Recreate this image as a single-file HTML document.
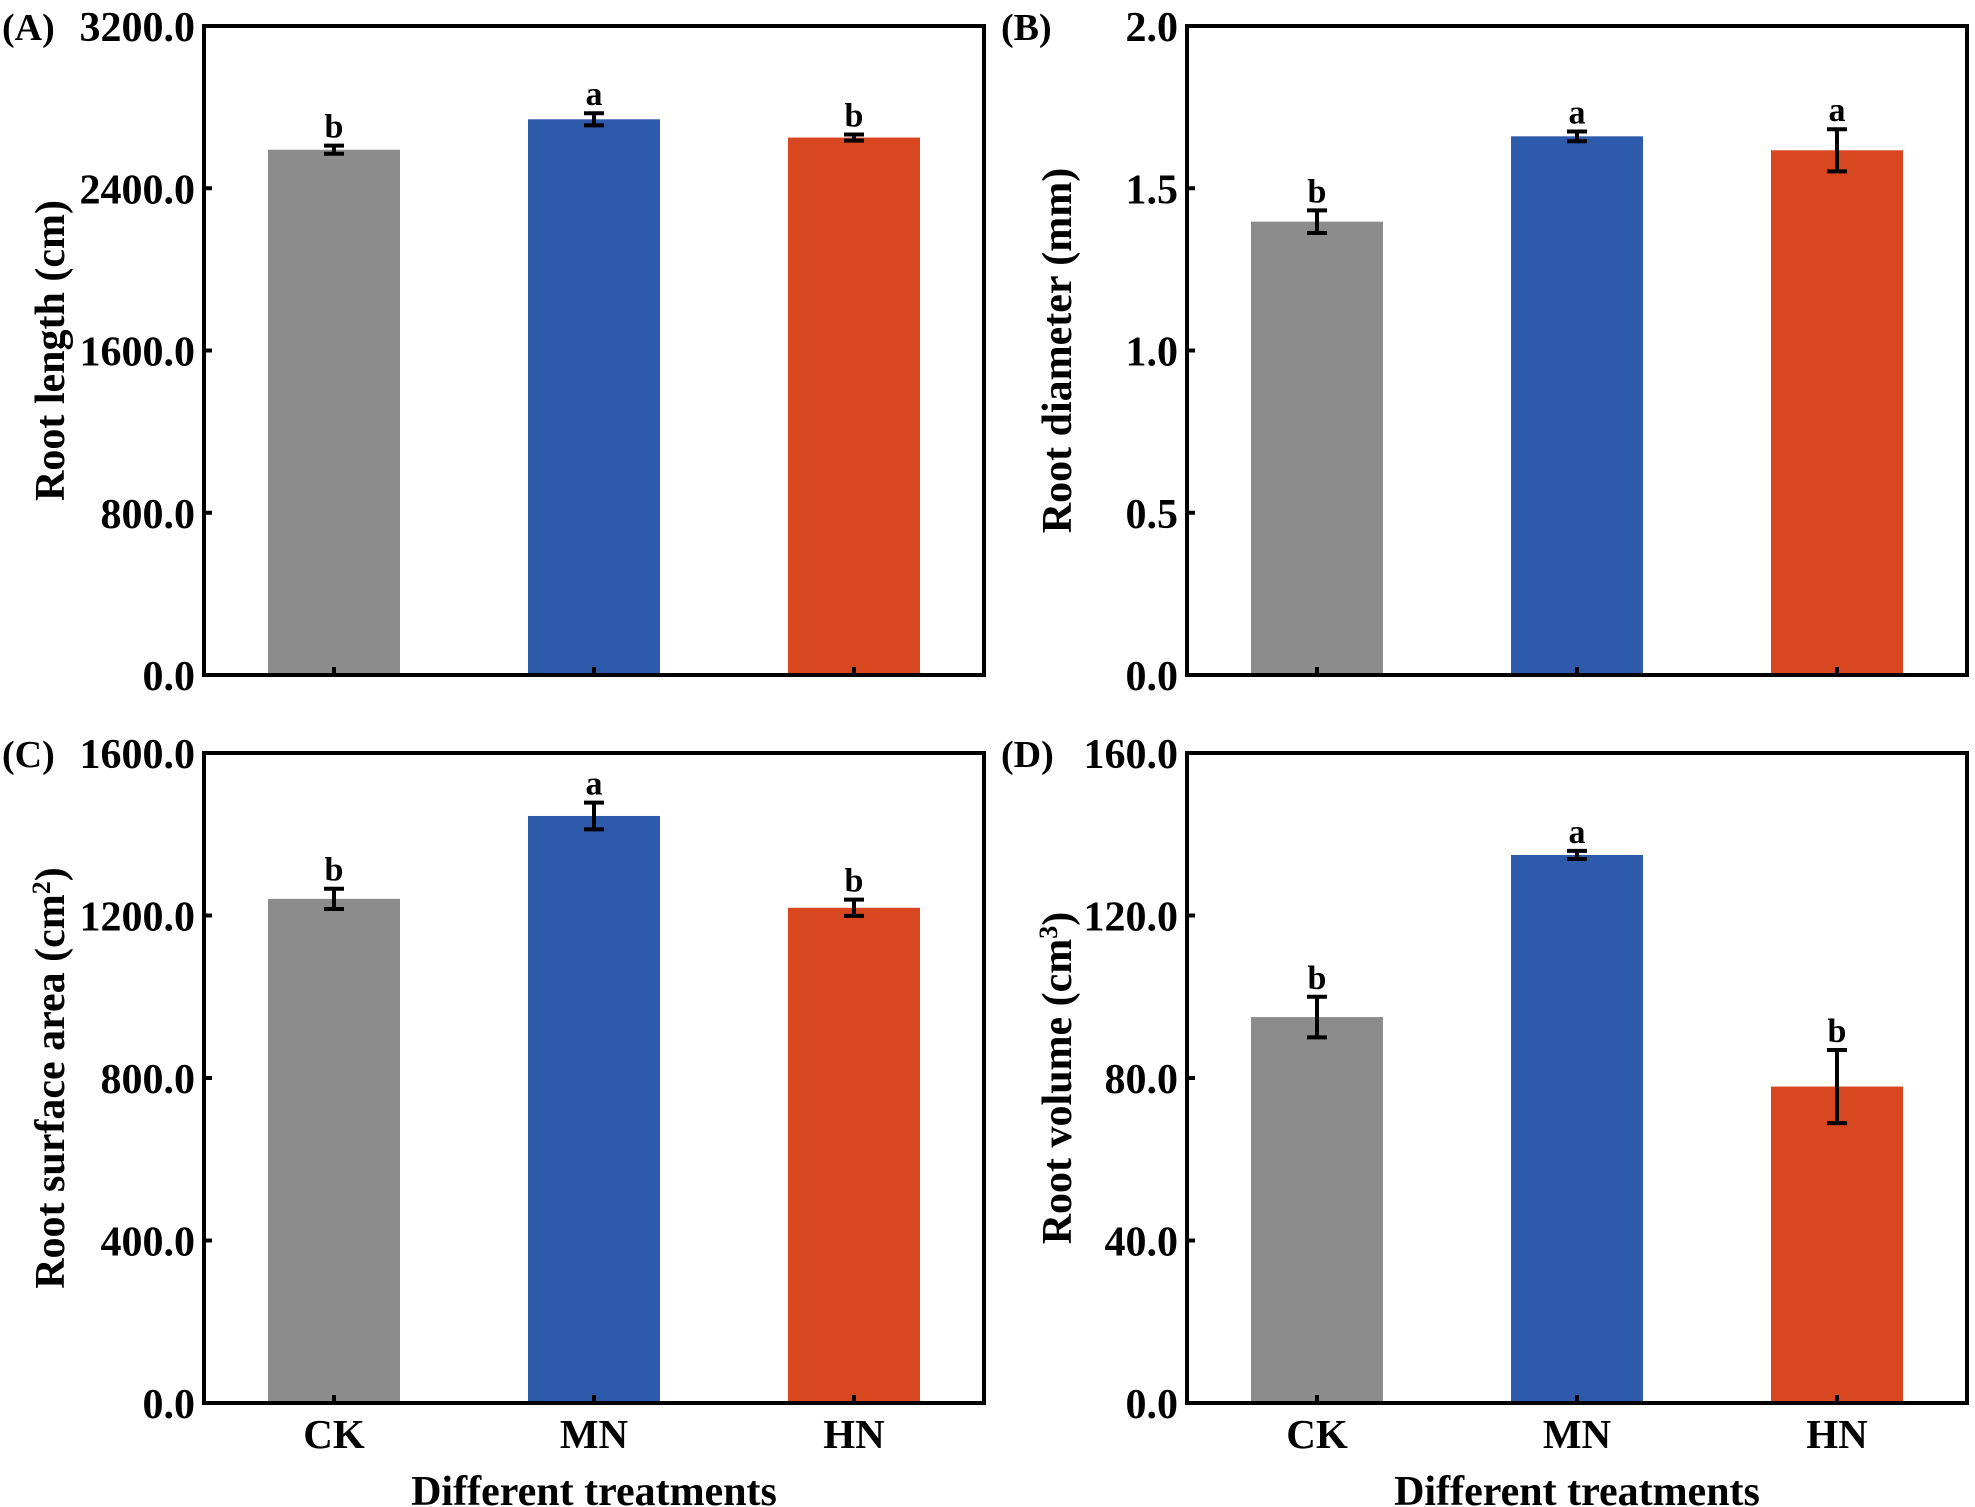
<!DOCTYPE html>
<html><head><meta charset="utf-8"><style>
html,body{margin:0;padding:0;background:#fff;}
svg{display:block;font-family:"Liberation Serif",serif;font-weight:bold;}
</style></head><body>
<svg id="fig" width="1975" height="1507" viewBox="0 0 1975 1507" xmlns="http://www.w3.org/2000/svg"></svg>
<script>
const categories = ["CK","MN","HN"];
const lengthValues = [2590, 2740, 2650];
const lengthErrors = [20, 30, 15];
const lengthLetters = ["b","a","b"];
const lengthTicks = ["0.0","800.0","1600.0","2400.0","3200.0"];
const diameterValues = [1.397, 1.66, 1.617];
const diameterErrors = [0.035, 0.015, 0.065];
const diameterLetters = ["b","a","a"];
const diameterTicks = ["0.0","0.5","1.0","1.5","2.0"];
const areaValues = [1241, 1445, 1219];
const areaErrors = [25, 33, 20];
const areaLetters = ["b","a","b"];
const areaTicks = ["0.0","400.0","800.0","1200.0","1600.0"];
const volumeValues = [95.0, 134.9, 77.9];
const volumeErrors = [5, 1, 9];
const volumeLetters = ["b","a","b"];
const volumeTicks = ["0.0","40.0","80.0","120.0","160.0"];
const colors = ["#8c8c8c","#2e5aac","#d8471f"];

const NS="http://www.w3.org/2000/svg";
const svg=document.getElementById('fig');
function mk(tag,attrs,parent){const e=document.createElementNS(NS,tag);for(const k in attrs)e.setAttribute(k,attrs[k]);(parent||svg).appendChild(e);return e;}

function panel(cfg){
  const g=mk('g',{});
  
  
  const L=cfg.x0,R=cfg.x1,T=cfg.y0,B=cfg.y1,W=R-L;
  const ymax=parseFloat(cfg.ticks[cfg.ticks.length-1]);
  const yS=v=>B-(v/ymax)*(B-T);
  const xS=i=>L+W*(i*2+1)/6;
  const bw=132;
  cfg.values.forEach((v,i)=>{
    const r=mk('rect',{x:xS(i)-bw/2,y:yS(v),width:bw,height:B-yS(v),fill:colors[i]},g);
    
    
    const e=cfg.errors[i];
    const eg=mk('g',{stroke:'#000','stroke-width':4},g);
    
    
    mk('line',{x1:xS(i),x2:xS(i),y1:yS(v+e),y2:yS(v-e)},eg);
    mk('line',{x1:xS(i)-10,x2:xS(i)+10,y1:yS(v+e),y2:yS(v+e)},eg);
    mk('line',{x1:xS(i)-10,x2:xS(i)+10,y1:yS(v-e),y2:yS(v-e)},eg);
    const t=mk('text',{x:xS(i),y:yS(v+e)-8,'text-anchor':'middle','font-size':34},g);
    t.textContent=cfg.letters[i];
    
    
    const tk=mk('line',{x1:xS(i),x2:xS(i),y1:B,y2:B-8,stroke:'#000','stroke-width':4},g);
    
    
    if(cfg.xlabels){
      const xl=mk('text',{x:xS(i),y:B+45,'text-anchor':'middle','font-size':41},g);
      xl.textContent=categories[i];
      
      
    }
  });
  cfg.ticks.forEach(s=>{
    const v=parseFloat(s);
    const tk=mk('line',{x1:L,x2:L+8,y1:yS(v),y2:yS(v),stroke:'#000','stroke-width':4},g);
    
    
    const t=mk('text',{x:L-9,y:yS(v)+15,'text-anchor':'end','font-size':42},g);
    t.textContent=s;
    
    
  });
  const fr=mk('rect',{x:L,y:T,width:W,height:B-T,fill:'none',stroke:'#000','stroke-width':4},g);
  
  
  const yt=mk('text',{x:0,y:0,'text-anchor':'middle','font-size':42,transform:`translate(${L-cfg.tOff},${(T+B)/2}) rotate(-90)`},g);
  yt.innerHTML=cfg.title;
  
  
  const pl=mk('text',{x:L-cfg.lOff,y:T+14,'font-size':38},g);
  pl.textContent=cfg.label;
  
  
  if(cfg.xlabels){
    const xt=mk('text',{x:L+W/2,y:B+102,'text-anchor':'middle','font-size':42},g);
    xt.textContent='Different treatments';
    
    
  }
}
panel({name:'panel-a-root-length',label:'(A)',x0:204,x1:984,y0:26,y1:675,values:lengthValues,errors:lengthErrors,letters:lengthLetters,ticks:lengthTicks,title:'Root length (cm)',tOff:140,lOff:202});
panel({name:'panel-b-root-diameter',label:'(B)',x0:1187,x1:1967,y0:26,y1:675,values:diameterValues,errors:diameterErrors,letters:diameterLetters,ticks:diameterTicks,title:'Root diameter (mm)',tOff:116,lOff:186});
panel({name:'panel-c-root-surface-area',label:'(C)',x0:204,x1:984,y0:753,y1:1403,values:areaValues,errors:areaErrors,letters:areaLetters,ticks:areaTicks,title:'Root surface area (cm<tspan baseline-shift="super" font-size="26">2</tspan>)',xlabels:true,tOff:140,lOff:202});
panel({name:'panel-d-root-volume',label:'(D)',x0:1187,x1:1967,y0:753,y1:1403,values:volumeValues,errors:volumeErrors,letters:volumeLetters,ticks:volumeTicks,title:'Root volume (cm<tspan baseline-shift="super" font-size="26">3</tspan>)',xlabels:true,tOff:116,lOff:186});
</script>
</body></html>
